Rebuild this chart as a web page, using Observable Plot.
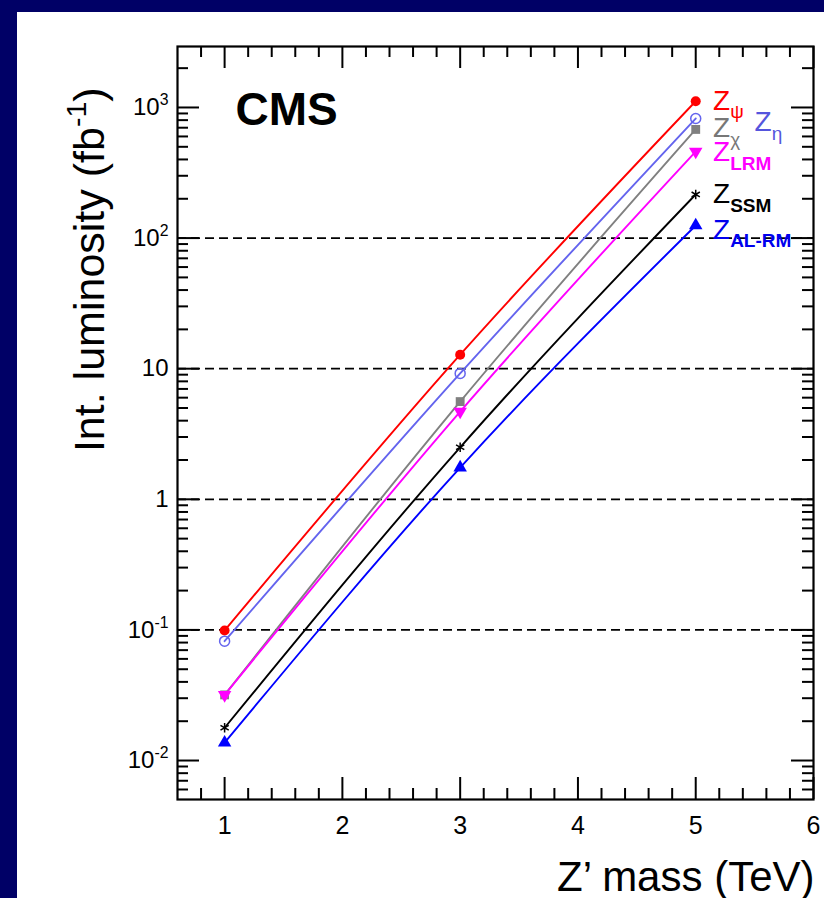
<!DOCTYPE html>
<html>
<head>
<meta charset="utf-8">
<script src="https://cdn.jsdelivr.net/npm/d3@7"></script>
<script src="https://cdn.jsdelivr.net/npm/@observablehq/plot@0.6"></script>
<style>
  html, body { margin: 0; padding: 0; }
  body { width: 824px; height: 898px; background: #000066; overflow: hidden; position: relative; font-family: "Liberation Sans", Arial, sans-serif; }
  #panel { position: absolute; left: 17px; top: 12px; width: 807px; height: 886px; background: #ffffff; }
</style>
</head>
<body>
<div id="panel"></div>
<script>
// ---- data ----
const masses = [1, 3, 5];                 // Z' mass (TeV)
const zPsi  = [0.099, 12.8, 1117];        // Int. luminosity (fb^-1)
const zEta  = [0.082, 9.2, 824];
const zChi  = [0.0318, 5.6, 679];
const zLRM  = [0.0318, 4.7, 460];
const zSSM  = [0.0178, 2.5, 216];
const zALRM = [0.0137, 1.75, 125];

const modelKeys   = ["psi", "eta", "chi", "LRM", "SSM", "ALRM"];
const modelValues = [zPsi, zEta, zChi, zLRM, zSSM, zALRM];
const modelColors = ["#ff0000", "#6464ee", "#808080", "#ff00ff", "#000000", "#0000ff"];
const modelSymbols = ["circle", "circle", "square", "triangle", "asterisk", "triangle"];
const modelFilled  = [true, false, true, true, false, true];
const modelRotate  = [0, 0, 0, 180, 0, 0];

// legend labels
const labelTexts  = ["Z_{ψ}", "Z_{η}", "Z_{χ}", "Z_{LRM}", "Z_{SSM}", "Z_{AL-RM}"];
const labelX      = [5.147, 5.50, 5.147, 5.147, 5.147, 5.147];
const labelY      = [1130, 768, 690, 452, 216, 116];
const labelColors = ["#ff0000", "#5555dd", "#777777", "#ff00ff", "#000000", "#0000ee"];

// axes
const xTickValues = [1, 2, 3, 4, 5, 6];
const xTickLabels = ["1", "2", "3", "4", "5", "6"];
const yTickValues = [0.01, 0.1, 1, 10, 100, 1000];
const yTickLabels = ["10^{-2}", "10^{-1}", "1", "10", "10^{2}", "10^{3}"];
const gridValues  = [0.1, 1, 10, 100];
const xDomain = [0.6, 6];
const yDomain = [0.00503, 2930];

// ---- derived tables ----
const rows = modelKeys.flatMap((k, i) => masses.map((m, j) => ({model: k, idx: i, mass: m, lumi: modelValues[i][j]})));
const labels = labelTexts.map((t, i) => ({t, x: labelX[i], y: labelY[i], c: labelColors[i]}));
const yLabels = yTickValues.map((v, i) => ({v, t: yTickLabels[i]}));
const xLabels = xTickValues.map((v, i) => ({v, t: xTickLabels[i]}));

const xMinor = d3.range(0.8, 6.0001, 0.2).map(v => +v.toFixed(1)).filter(v => Math.abs(v - Math.round(v)) > 1e-6 && v > xDomain[0] && v < xDomain[1]);
const yMinor = [];
for (let e = -3; e <= 3; e++) for (let k = 2; k <= 9; k++) { const v = k * Math.pow(10, e); if (v > yDomain[0] && v < yDomain[1]) yMinor.push(v); }

// ---- layout ----
const W = 807, H = 886;
const mL = 160, mR = 11, mT = 34, mB = 99;
const FW = W - mL - mR, FH = H - mT - mB;
const MAJ = 22, MIN = 11;
const font = "Liberation Sans, Arial, Helvetica, sans-serif";

const marks = [
  Plot.ruleY(gridValues, {stroke: "black", strokeWidth: 1.8, strokeDasharray: "9,5"}),
];
modelKeys.forEach((k, i) => {
  const data = rows.filter(r => r.idx === i);
  marks.push(Plot.line(data, {x: "mass", y: "lumi", stroke: modelColors[i], strokeWidth: 1.9, curve: "natural"}));
});
modelKeys.forEach((k, i) => {
  const data = rows.filter(r => r.idx === i);
  marks.push(Plot.dot(data, {
    x: "mass", y: "lumi", symbol: modelSymbols[i], r: modelSymbols[i] === "asterisk" ? 4.5 : 5,
    fill: modelFilled[i] ? modelColors[i] : "none",
    stroke: modelFilled[i] ? "none" : modelColors[i],
    strokeWidth: 1.5, rotate: modelRotate[i]
  }));
});
// ticks (inside, all four sides)
marks.push(
  Plot.tickY(yTickValues, {y: d => d, insetRight: FW - MAJ, stroke: "black", strokeWidth: 2}),
  Plot.tickY(yMinor, {y: d => d, insetRight: FW - MIN, stroke: "black", strokeWidth: 2}),
  Plot.tickY(yTickValues, {y: d => d, insetLeft: FW - MAJ, stroke: "black", strokeWidth: 2}),
  Plot.tickY(yMinor, {y: d => d, insetLeft: FW - MIN, stroke: "black", strokeWidth: 2}),
  Plot.tickX(xTickValues, {x: d => d, insetTop: FH - MAJ, stroke: "black", strokeWidth: 2}),
  Plot.tickX(xMinor, {x: d => d, insetTop: FH - MIN, stroke: "black", strokeWidth: 2}),
  Plot.tickX(xTickValues, {x: d => d, insetBottom: FH - MAJ, stroke: "black", strokeWidth: 2}),
  Plot.tickX(xMinor, {x: d => d, insetBottom: FH - MIN, stroke: "black", strokeWidth: 2}),
  Plot.frame({stroke: "black", strokeWidth: 2.2})
);
// tick labels
marks.push(
  Plot.text(yLabels, {y: "v", text: "t", frameAnchor: "left", dx: -9, textAnchor: "end", lineAnchor: "middle", fontSize: 24, fill: "black", className: "rich"}),
  Plot.text(xLabels, {x: "v", text: "t", frameAnchor: "bottom", dy: 26, lineAnchor: "middle", fontSize: 25, fill: "black"})
);
// titles
marks.push(
  Plot.text(["Int. luminosity (fb^{-1})"], {frameAnchor: "top-left", rotate: -90, textAnchor: "end", lineAnchor: "middle", dx: -87, dy: 41, fontSize: 43, fill: "black", className: "rich"}),
  Plot.text(["Z’ mass (TeV)"], {frameAnchor: "bottom-right", textAnchor: "end", lineAnchor: "middle", dx: 1, dy: 78, fontSize: 42, fill: "black"}),
  Plot.text(["CMS"], {frameAnchor: "top-left", textAnchor: "start", lineAnchor: "middle", dx: 58, dy: 64, fontSize: 46, fontWeight: "bold", fill: "black"})
);
// legend labels
marks.push(
  Plot.text(labels, {x: "x", y: "y", text: "t", fill: "c", textAnchor: "start", lineAnchor: "middle", fontSize: 28, className: "rich legend"})
);

const chart = Plot.plot({
  width: W, height: H,
  marginLeft: mL, marginRight: mR, marginTop: mT, marginBottom: mB,
  style: {fontFamily: font, background: "transparent", overflow: "visible"},
  x: {domain: xDomain, axis: null},
  y: {type: "log", domain: yDomain, axis: null},
  color: {type: "identity"},
  marks
});

// superscripts / subscripts as real tspans
function richify(node, subScale, subBold) {
  const s = node.textContent;
  if (!/[\^_]\{/.test(s)) return;
  const fs = parseFloat(getComputedStyle(node).fontSize) || 20;
  const segs = [];
  const re = /([\^_])\{([^}]*)\}/g;
  let last = 0, m;
  while ((m = re.exec(s))) {
    if (m.index > last) segs.push({k: "n", t: s.slice(last, m.index)});
    segs.push({k: m[1] === "^" ? "sup" : "sub", t: m[2]});
    last = re.lastIndex;
  }
  if (last < s.length) segs.push({k: "n", t: s.slice(last)});
  node.textContent = "";
  let shift = 0;
  for (const sg of segs) {
    const ts = document.createElementNS("http://www.w3.org/2000/svg", "tspan");
    const target = sg.k === "sup" ? -0.42 * fs : sg.k === "sub" ? 0.3 * fs : 0;
    if (target - shift !== 0) ts.setAttribute("dy", (target - shift).toFixed(2));
    shift = target;
    if (sg.k !== "n") ts.setAttribute("font-size", ((sg.k === "sub" ? subScale : 0.66) * fs).toFixed(1));
    if (sg.k === "sub" && subBold && sg.t.length > 1) ts.setAttribute("font-weight", "bold");
    ts.textContent = sg.t;
    node.appendChild(ts);
  }
}
document.getElementById("panel").appendChild(chart);
d3.select(chart).selectAll(".rich:not(.legend) text").each(function () { richify(this, 0.66, false); });
d3.select(chart).selectAll(".legend text").each(function () { richify(this, 0.68, true); });
</script>
</body>
</html>
